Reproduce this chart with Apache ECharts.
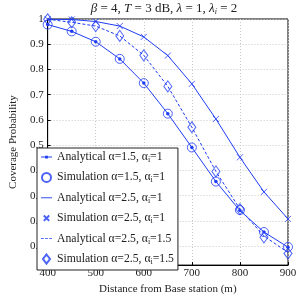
<!DOCTYPE html>
<html><head><meta charset="utf-8">
<script src="https://cdn.jsdelivr.net/npm/echarts@6/dist/echarts.min.js"></script>
<style>html,body{margin:0;padding:0;background:#fff}#c{width:301px;height:300px}</style>
</head><body><div id="c"></div>
<script>
const distances = [400, 450, 500, 550, 600, 650, 700, 750, 800, 850, 900];
const anaA15Ai1 = [0.978, 0.951, 0.910, 0.842, 0.746, 0.625, 0.491, 0.356, 0.241, 0.156, 0.096];
const simA15Ai1 = [0.978, 0.951, 0.910, 0.842, 0.746, 0.625, 0.491, 0.356, 0.243, 0.156, 0.097];
const anaA25Ai1 = [0.999, 0.998, 0.990, 0.972, 0.929, 0.855, 0.743, 0.604, 0.452, 0.315, 0.208];
const simA25Ai1 = [0.999, 0.998, 0.990, 0.972, 0.929, 0.855, 0.743, 0.604, 0.452, 0.315, 0.208];
const anaA25Ai15 = [0.999, 0.987, 0.972, 0.933, 0.856, 0.733, 0.571, 0.396, 0.247, 0.140, 0.075];
const simA25Ai15 = [0.999, 0.987, 0.972, 0.933, 0.856, 0.733, 0.571, 0.396, 0.247, 0.135, 0.071];
const seriesNames = ['Analytical α=1.5, αi=1', 'Simulation α=1.5, αi=1', 'Analytical α=2.5, αi=1',
  'Simulation α=2.5, αi=1', 'Analytical α=2.5, αi=1.5', 'Simulation α=2.5, αi=1.5'];
const yTicks = [0.1, 0.2, 0.3, 0.4, 0.5, 0.6, 0.7, 0.8, 0.9, 1];

const BLUE = '#1f3cf5';
const FONT = '"Liberation Serif", "DejaVu Serif", serif';
const pair = arr => arr.map((v, i) => [distances[i], v]);

const legendIcons = [
  'path://M0,4H12V5H0Z M4.5,3H7.5V6H4.5Z',
  'circle',
  'path://M0,4H12V5H0Z',
  'path://M-2,-2M8,8M0,0L6,6M6,0L0,6',
  'path://M0,4H3V5H0Z M4.5,4H7.5V5H4.5Z M9,4H12V5H9Z',
  'path://M3.5,0L7,4.5L3.5,9L0,4.5Z'
];

const chart = echarts.init(document.getElementById('c'), null, {renderer: 'canvas'});
chart.setOption({
  animation: false,
  title: {
    text: '{i|β} = 4, {i|T} = 3 dB, {i|λ} = 1, {i|λ}{s|i} = 2',
    left: 159, top: -3, textAlign: 'center',
    textStyle: {
      fontFamily: FONT, fontSize: 13, fontWeight: 'normal', color: '#222',
      rich: {
        i: {fontFamily: FONT, fontSize: 13, fontStyle: 'italic', color: '#222'},
        s: {fontFamily: FONT, fontSize: 8, fontStyle: 'italic', color: '#222', padding: [6, 0, 0, 0]}
      }
    }
  },
  grid: {left: 31, right: 13, top: 19, bottom: 27, show: true, borderColor: '#000', borderWidth: 1, backgroundColor: '#fff'},
  xAxis: {
    type: 'value', min: 400, max: 900, interval: 100,
    name: 'Distance from Base station (m)', nameLocation: 'middle', nameGap: 14,
    nameTextStyle: {fontFamily: FONT, fontSize: 11, color: '#222'},
    axisLine: {show: true, lineStyle: {color: '#000', width: 1}},
    axisTick: {show: true, inside: true, length: 3, lineStyle: {color: '#000'}},
    axisLabel: {fontFamily: FONT, fontSize: 11, color: '#222', margin: 3},
    splitLine: {show: true, lineStyle: {color: '#c8c8c8', type: [1, 2], width: 1}}
  },
  yAxis: {
    type: 'value', min: 0.025, max: 1,
    name: 'Coverage Probability', nameLocation: 'middle', nameGap: 18,
    nameTextStyle: {fontFamily: FONT, fontSize: 11, color: '#222'},
    axisLine: {show: true, lineStyle: {color: '#000', width: 1}},
    axisTick: {show: true, inside: true, length: 3, lineStyle: {color: '#000'}, customValues: yTicks},
    axisLabel: {fontFamily: FONT, fontSize: 11, color: '#222', margin: 4, customValues: yTicks,
      formatter: v => String(+(+v).toFixed(1))},
    splitLine: {show: true, lineStyle: {color: '#c8c8c8', type: [1, 2], width: 1}}
  },
  legend: {
    orient: 'vertical', left: 37, top: 148,
    padding: [3, 4, 4, 4], itemGap: 7.4, itemWidth: 11, itemHeight: 9,
    backgroundColor: '#fff', borderColor: '#222', borderWidth: 1, borderRadius: 0,
    data: seriesNames.map((n, i) => ({name: n, icon: legendIcons[i]})),
    formatter: name => name.replace('αi', 'α{s|i}'),
    textStyle: {
      fontFamily: FONT, fontSize: 11.7, color: '#222', lineHeight: 12,
      rich: {s: {fontFamily: FONT, fontSize: 8, color: '#222', padding: [6, 0, 0, 0]}}
    }
  },
  series: [
    {name: seriesNames[0], type: 'line', data: pair(anaA15Ai1), symbol: 'circle', symbolSize: 3.5,
      lineStyle: {color: BLUE, width: 1}, itemStyle: {color: BLUE}},
    {name: seriesNames[1], type: 'scatter', data: pair(simA15Ai1), symbol: 'circle', symbolSize: 9,
      itemStyle: {color: 'rgba(0,0,0,0)', borderColor: BLUE, borderWidth: 1}},
    {name: seriesNames[2], type: 'line', data: pair(anaA25Ai1), symbol: 'none',
      lineStyle: {color: BLUE, width: 1}, itemStyle: {color: BLUE}},
    {name: seriesNames[3], type: 'scatter', data: pair(simA25Ai1), symbol: 'path://M0,0L10,10M10,0L0,10', symbolSize: 6,
      itemStyle: {color: 'rgba(0,0,0,0)', borderColor: BLUE, borderWidth: 1}},
    {name: seriesNames[4], type: 'line', data: pair(anaA25Ai15), symbol: 'none',
      lineStyle: {color: BLUE, width: 1, type: [3, 2]}, itemStyle: {color: BLUE}},
    {name: seriesNames[5], type: 'scatter', data: pair(simA25Ai15), symbol: 'diamond', symbolSize: [8, 11],
      itemStyle: {color: 'rgba(0,0,0,0)', borderColor: BLUE, borderWidth: 1}}
  ]
});
</script></body></html>
